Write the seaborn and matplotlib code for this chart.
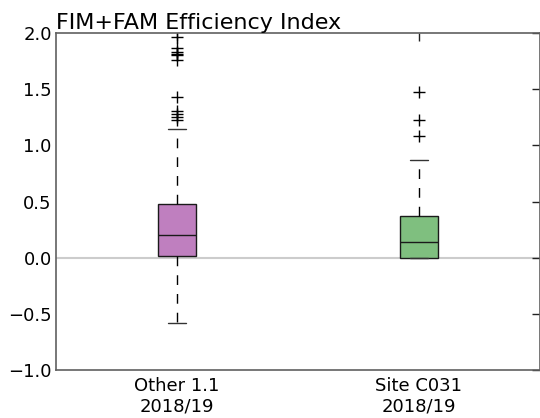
import numpy as np
import pandas as pd
import matplotlib
matplotlib.use("Agg")
import matplotlib.pyplot as plt
import seaborn as sns

# ---- data ----
categories = ["Other 1.1\n2018/19", "Site C031\n2018/19"]
whisker_low = [-0.579, 0.0]
q1 = [0.018, 0.0]
median = [0.200, 0.137]
q3 = [0.478, 0.371]
whisker_high = [1.150, 0.870]
outliers = [
    [1.965, 1.867, 1.832, 1.814, 1.805, 1.760, 1.434, 1.306, 1.277, 1.250, 1.225],
    [1.473, 1.223, 1.084],
]
box_colors = ["#bf7fbf", "#7fbf7f"]
title = "FIM+FAM Efficiency Index"
y_ticks = [-1.0, -0.5, 0.0, 0.5, 1.0, 1.5, 2.0]

# Build a sample table whose box statistics reproduce the summary above
rows = []
for i, cat in enumerate(categories):
    m = len(outliers[i]) + 1
    vals = ([whisker_low[i]] + [q1[i]] * m + [median[i]] * m + [q3[i]] * m
            + [whisker_high[i]] + list(outliers[i]))
    rows += [(cat, v) for v in vals]
df = pd.DataFrame(rows, columns=["group", "value"])

sns.set_style("white")
plt.rcParams["font.family"] = ["DejaVu Sans"]

fig = plt.figure(figsize=(5.4, 4.18), dpi=100)
ax = fig.add_axes([0.1037, 0.1148, 0.896, 0.8062])

ax.axhline(0, color="#cccccc", lw=1.5, zorder=0)

sns.boxplot(
    data=df, x="group", y="value", hue="group", order=categories,
    hue_order=categories, palette=box_colors, saturation=1, legend=False,
    width=0.155, whis=1.5, ax=ax, linewidth=1.0, linecolor="#1a1a1a",
    boxprops=dict(zorder=2),
    whiskerprops=dict(linestyle=(0, (7, 6.5)), color="black", linewidth=1.0),
    capprops=dict(color="#333333", linewidth=1.0),
    medianprops=dict(color="#1a1a1a", linewidth=1.0),
    flierprops=dict(marker="+", markersize=8, markeredgecolor="black",
                    markeredgewidth=1.0),
)

ax.set_ylim(-1.0, 2.0)
ax.set_xlim(-0.5, 1.5)
ax.set_yticks(y_ticks)
ax.set_yticklabels([f"{t:.1f}".replace("-", "\u2212") for t in y_ticks])
ax.set_xlabel("")
ax.set_ylabel("")
ax.set_title(title, loc="left", fontsize=16, pad=3, color="black")

for s in ax.spines.values():
    s.set_visible(True)
    s.set_color("#606060")
    s.set_linewidth(1.2)
ax.tick_params(direction="in", length=5.5, width=1, color="#222222",
               labelsize=13, top=True, right=True, labelcolor="black", pad=5)
ax.tick_params(axis="y", pad=3)

fig.savefig("out.png", dpi=100)
